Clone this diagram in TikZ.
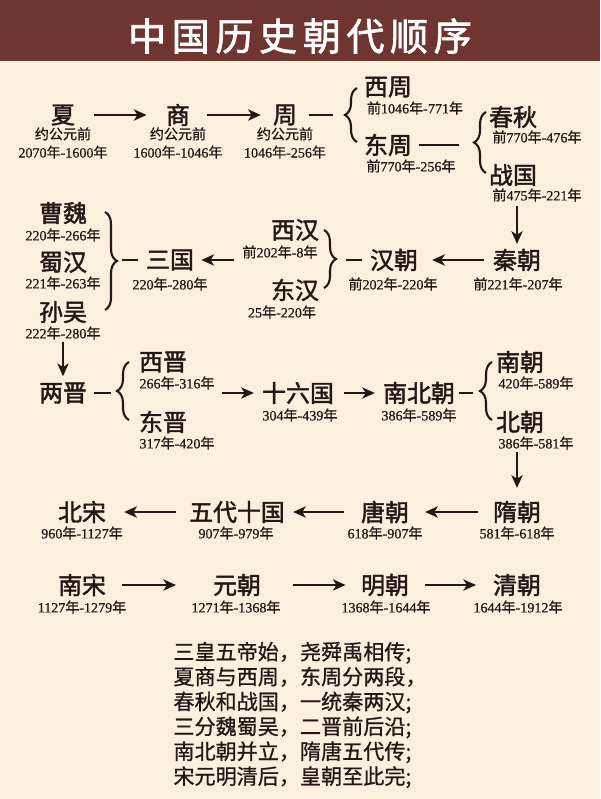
\documentclass[tikz,border=0pt]{standalone}
\usepackage{fontspec}
\setmainfont{Liberation Serif}[FakeBold=0.8]
\newfontfamily\cjk{Noto Sans CJK SC}[FakeBold=0.8]
\newfontfamily\cjkb{Noto Sans CJK SC}[FakeBold=1.8]
\usetikzlibrary{arrows.meta,decorations.pathreplacing}
\definecolor{band}{HTML}{6E3531}
\definecolor{paper}{HTML}{FBEFDE}
\definecolor{ink}{HTML}{231815}
\newcommand\nian{{\cjk 年}}
\newcommand\qian{{\cjk 前}}
\begin{document}
\begin{tikzpicture}[x=0.025cm, y=-0.025cm,
  every node/.style={inner sep=0pt, text=ink},
  title/.style={text=white, font=\cjkb\fontsize{27}{27}\selectfont\addfontfeatures{LetterSpace=15}},
  dyn/.style={font=\cjkb\fontsize{17}{17}\selectfont},
  yrs/.style={font=\fontsize{10}{13}\selectfont, align=center},
  poem/.style={font=\cjk\fontsize{15}{17.7}\selectfont, align=left},
  arr/.style={draw=ink, line width=1.5pt, -{Stealth[length=9pt, width=8pt, inset=2.5pt]}},
  ln/.style={draw=ink, line width=1.5pt},
  brc/.style={draw=ink, line width=1.5pt, decorate, decoration={brace, amplitude=0.3cm}},
  sh/.style 2 args={shorten <=#1, shorten >=#2}]
			\useasboundingbox (0,0) rectangle (600,799);
			\fill[paper] (0,0) rectangle (600,799);
			\fill[band] (0,0) rectangle (600,61);
			\node[title] (title) at (300,36) {中国历史朝代顺序};
			
			\node[dyn] (xia) at (63,115) {夏};
			\node[yrs] (xia-y) at (63,143) {{\cjk 约公元前}\\2070\nian-1600\nian};
			\node[dyn] (shang) at (178,115) {商};
			\node[yrs] (shang-y) at (178,143) {{\cjk 约公元前}\\1600\nian-1046\nian};
			\node[dyn] (zhou) at (285,115) {周};
			\node[yrs] (zhou-y) at (285,143) {{\cjk 约公元前}\\1046\nian-256\nian};
			\node[dyn] (xizhou) at (388,87) {西周};
			\node[yrs] (xizhou-y) at (415,108) {\qian1046\nian-771\nian};
			\node[dyn] (dongzhou) at (388,145) {东周};
			\node[yrs] (dongzhou-y) at (411,166) {\qian770\nian-256\nian};
			\node[dyn] (chunqiu) at (513,117) {春秋};
			\node[yrs] (chunqiu-y) at (537,137) {\qian770\nian-476\nian};
			\node[dyn] (zhanguo) at (513,175) {战国};
			\node[yrs] (zhanguo-y) at (537,195) {\qian475\nian-221\nian};
			
			\node[dyn] (qin) at (517,260) {秦朝};
			\node[yrs] (qin-y) at (518,284) {\qian221\nian-207\nian};
			\node[dyn] (han) at (394,260) {汉朝};
			\node[yrs] (han-y) at (393,284) {\qian202\nian-220\nian};
			\node[dyn] (xihan) at (295,230) {西汉};
			\node[yrs] (xihan-y) at (280,252) {\qian202\nian-8\nian};
			\node[dyn] (donghan) at (295,290) {东汉};
			\node[yrs] (donghan-y) at (282,312) {25\nian-220\nian};
			\node[dyn] (sanguo) at (170,260) {三国};
			\node[yrs] (sanguo-y) at (170,284) {220\nian-280\nian};
			\node[dyn] (caowei) at (63,213) {曹魏};
			\node[yrs] (caowei-y) at (63,235) {220\nian-266\nian};
			\node[dyn] (shuhan) at (63,262) {蜀汉};
			\node[yrs] (shuhan-y) at (63,283) {221\nian-263\nian};
			\node[dyn] (sunwu) at (63,312) {孙吴};
			\node[yrs] (sunwu-y) at (63,333) {222\nian-280\nian};
			
			\node[dyn] (liangjin) at (63,393) {两晋};
			\node[dyn] (xijin) at (163,362) {西晋};
			\node[yrs] (xijin-y) at (177,383) {266\nian-316\nian};
			\node[dyn] (dongjin) at (163,422) {东晋};
			\node[yrs] (dongjin-y) at (177,443) {317\nian-420\nian};
			\node[dyn] (shiliu) at (298,393) {十六国};
			\node[yrs] (shiliu-y) at (300,415) {304\nian-439\nian};
			\node[dyn] (nanbei) at (419,393) {南北朝};
			\node[yrs] (nanbei-y) at (419,415) {386\nian-589\nian};
			\node[dyn] (nanchao) at (520,362) {南朝};
			\node[yrs] (nanchao-y) at (536,383) {420\nian-589\nian};
			\node[dyn] (beichao) at (520,422) {北朝};
			\node[yrs] (beichao-y) at (536,443) {386\nian-581\nian};
			
			\node[dyn] (sui) at (517,512) {隋朝};
			\node[yrs] (sui-y) at (517,533) {581\nian-618\nian};
			\node[dyn] (tang) at (385,512) {唐朝};
			\node[yrs] (tang-y) at (385,533) {618\nian-907\nian};
			\node[dyn] (wudai) at (237,512) {五代十国};
			\node[yrs] (wudai-y) at (236,533) {907\nian-979\nian};
			\node[dyn] (beisong) at (82,512) {北宋};
			\node[yrs] (beisong-y) at (82,533) {960\nian-1127\nian};
			
			\node[dyn] (nansong) at (82,585) {南宋};
			\node[yrs] (nansong-y) at (82,607) {1127\nian-1279\nian};
			\node[dyn] (yuan) at (237,585) {元朝};
			\node[yrs] (yuan-y) at (236,607) {1271\nian-1368\nian};
			\node[dyn] (ming) at (385,585) {明朝};
			\node[yrs] (ming-y) at (386,607) {1368\nian-1644\nian};
			\node[dyn] (qing) at (517,585) {清朝};
			\node[yrs] (qing-y) at (518,607) {1644\nian-1912\nian};
			
			\node[poem] (poem) at (300,715) {三皇五帝始，尧舜禹相传;\\夏商与西周，东周分两段，\\春秋和战国，一统秦两汉;\\三分魏蜀吴，二晋前后沿;\\南北朝并立，隋唐五代传;\\宋元明清后，皇朝至此完;};
			
			\coordinate (zb) at (345,115);
			\coordinate (db) at (473,145);
			\coordinate (hb) at (337,260);
			\coordinate (sb) at (118,260);
			\coordinate (lb) at (115,393);
			\coordinate (nb) at (478,393);
			
			\path (xia) edge[arr, sh={0.48cm}{0.48cm}] (shang);
			\path (shang) edge[arr, sh={0.43cm}{0.3cm}] (zhou);
			\path (zhou) edge[ln, sh={0.3cm}{0.3cm}] (zb);
			\draw[brc] (357,142) -- (357,88);
			\path (dongzhou) edge[ln, sh={0.18cm}{0.35cm}] (db);
			\draw[brc] (486,173) -- (486,112);
			\path (zhanguo-y.south -| qin) edge[arr, sh={0.1cm}{0.12cm}] (qin);
			
			\path (qin) edge[arr, sh={0.22cm}{0.35cm}] (han);
			\path (han) edge[ln, sh={0.2cm}{0.22cm}] (hb);
			\draw[brc] (324,230) -- (324,288);
			\path (xihan-y.west |- sanguo) edge[arr, sh={0.2cm}{0.18cm}] (sanguo);
			\path (sanguo) edge[ln, sh={0.2cm}{0.1cm}] (sb);
			\draw[brc] (105,212) -- (105,310);
			\path (sunwu-y.south) edge[arr, sh={0.05cm}{0.15cm}] (liangjin);
			
			\path (liangjin) edge[ln, sh={0.18cm}{0.1cm}] (lb);
			\draw[brc] (129,420) -- (129,362);
			\path (xijin-y.east |- shiliu) edge[arr, sh={0.18cm}{0.2cm}] (shiliu);
			\path (shiliu) edge[arr, sh={0.25cm}{0.2cm}] (nanbei);
			\path (nanbei) edge[ln, sh={0.1cm}{0.12cm}] (nb);
			\draw[brc] (492,420) -- (492,362);
			\path (beichao-y.south -| sui) edge[arr, sh={0.05cm}{0.32cm}] (sui);
			
			\path (sui) edge[arr, sh={0.38cm}{0.4cm}] (tang);
			\path (tang) edge[arr, sh={0.42cm}{0.2cm}] (wudai);
			\path (wudai) edge[arr, sh={0.32cm}{0.45cm}] (beisong);
			\path (nansong) edge[arr, sh={0.4cm}{0.92cm}] (yuan);
			\path (yuan) edge[arr, sh={0.8cm}{0.38cm}] (ming);
			\path (ming) edge[arr, sh={0.4cm}{0.42cm}] (qing);
\end{tikzpicture}
\end{document}
